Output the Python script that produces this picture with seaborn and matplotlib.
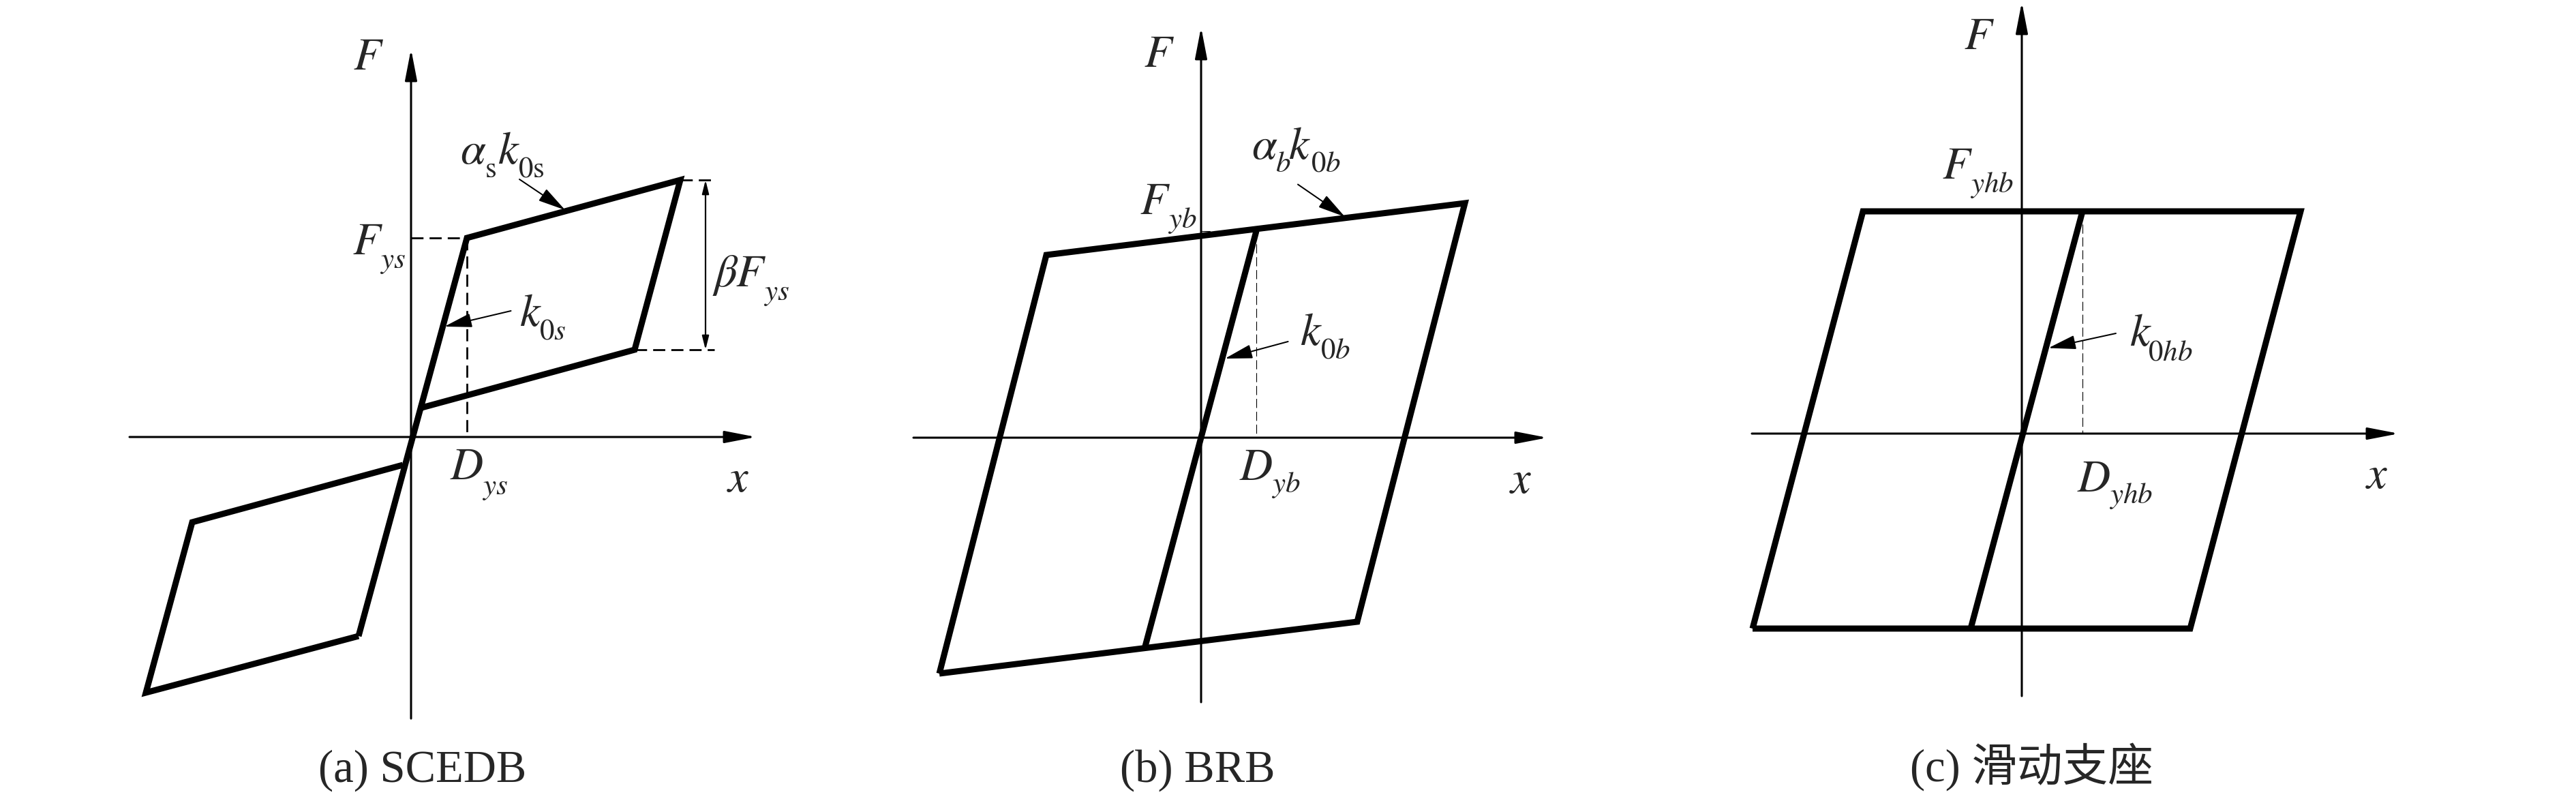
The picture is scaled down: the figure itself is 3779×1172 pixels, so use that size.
import matplotlib
matplotlib.use("Agg")
import matplotlib.pyplot as plt
import seaborn as sns

# force-displacement loops (units: 100 px of the original)
# (a) SCEDB
scedb_upper_x = [-0.77, 0.82, 3.95, 3.28, 0.12]
scedb_upper_F = [-2.92, 2.92, 3.77, 1.28, 0.42]
scedb_lower_x = [-0.12, -3.21, -3.89, -0.77]
scedb_lower_F = [-0.41, -1.25, -3.75, -2.92]
scedb_Dy, scedb_Fy = 0.82, 2.92
scedb_Fb = 1.28  # lower end of beta*Fys
scedb_Ft = 3.77  # upper end of beta*Fys

# (b) BRB
brb_loop_x = [-3.84, -2.27, 3.87, 2.29, -3.84]
brb_loop_F = [-3.46, 2.68, 3.44, -2.70, -3.46]
brb_elastic_x = [-0.82, 0.81]
brb_elastic_F = [-3.06, 3.03]
brb_Dy, brb_Fy = 0.81, 3.03

# (c) sliding bearing
slide_loop_x = [-3.95, -2.33, 4.09, 2.47, -3.95]
slide_loop_F = [-2.86, 3.26, 3.26, -2.86, -2.86]
slide_elastic_x = [-0.75, 0.89]
slide_elastic_F = [-2.86, 3.26]
slide_Dy, slide_Fy = 0.89, 3.26

captions = ["(a) SCEDB", "(b) BRB", "(c) 滑动支座"]

sns.set_style("white")
plt.rcParams['font.family'] = ['Liberation Serif', 'Noto Sans CJK SC']
plt.rcParams['mathtext.fontset'] = 'stix'

W, H, PX = 3780, 1172, 100
FS = 48      # main symbols / captions
FS_SUB = 31  # subscripts
LOOP_LW = 6.5
AX_LW = 2.2

fig = plt.figure(figsize=(W / 100, H / 100), dpi=100)
fig.patch.set_facecolor('white')


def make_axes(origin, xlim, ylim):
    ox, oy = origin
    left = (ox + xlim[0] * PX) / W
    width = (xlim[1] - xlim[0]) * PX / W
    bottom = 1 - (oy - ylim[0] * PX) / H
    height = (ylim[1] - ylim[0]) * PX / H
    ax = fig.add_axes([left, bottom, width, height])
    ax.set_xlim(xlim)
    ax.set_ylim(ylim)
    ax.set_axis_off()
    return ax


def draw_axes(ax, xl, xr, yb, yt):
    head = dict(arrowstyle='-|>,head_length=1.4,head_width=0.27',
                mutation_scale=20, lw=AX_LW, color='black',
                shrinkA=0, shrinkB=0)
    ax.annotate('', xy=(xr, 0), xytext=(xl, 0), arrowprops=head,
                annotation_clip=False)
    ax.annotate('', xy=(0, yt), xytext=(0, yb), arrowprops=head,
                annotation_clip=False)


def loop(ax, xs, ys):
    sns.lineplot(x=xs, y=ys, sort=False, estimator=None, ax=ax,
                 color='black', lw=LOOP_LW, solid_joinstyle='miter',
                 solid_capstyle='butt', clip_on=False)


def pointer(ax, start, end):
    ax.annotate('', xy=end, xytext=start, annotation_clip=False,
                arrowprops=dict(arrowstyle='-|>,head_length=1.25,head_width=0.32',
                                mutation_scale=20, lw=1.45, color='black',
                                shrinkA=0, shrinkB=0))


def symbol(ax, pieces):
    # pieces: (text, x, y, is_subscript); baseline-anchored
    for s, x, y, sub in pieces:
        ax.text(x, y, s, fontsize=FS_SUB if sub else FS,
                ha='left', va='baseline', clip_on=False)


# ---------------- (a) SCEDB ----------------
ax = make_axes((603, 641), (-4.5, 5.6), (-5.3, 6.0))
draw_axes(ax, -4.13, 5.06, -4.13, 5.69)
loop(ax, scedb_upper_x, scedb_upper_F)
loop(ax, scedb_lower_x, scedb_lower_F)
dash = dict(color='black', lw=2.0, dashes=(6.4, 3.2), clip_on=False)
ax.plot([0, scedb_Dy], [scedb_Fy, scedb_Fy], **dash)
ax.plot([scedb_Dy, scedb_Dy], [scedb_Fy, 0], **dash)
ax.plot([3.28, 4.45], [scedb_Fb, scedb_Fb], **dash)
ax.plot([3.95, 4.45], [scedb_Ft, scedb_Ft], **dash)
ax.annotate('', xy=(4.32, scedb_Ft), xytext=(4.32, scedb_Fb),
            annotation_clip=False,
            arrowprops=dict(arrowstyle='<|-|>,head_length=1.2,head_width=0.3',
                            mutation_scale=10, lw=1.6, color='black',
                            shrinkA=0, shrinkB=0))
pointer(ax, (1.59, 3.78), (2.26, 3.33))
pointer(ax, (1.465, 1.85), (0.49, 1.62))
ax.text(-0.63, 5.56, r'$F$', fontsize=FS, ha='center', va='center')
ax.text(4.80, -0.64, r'$x$', fontsize=FS, ha='center', va='center')
symbol(ax, [(r'$F$', -0.86, 2.68, False), (r'$ys$', -0.46, 2.48, True)])
symbol(ax, [(r'$k$', 1.59, 1.63, False), (r'$0s$', 1.88, 1.43, True)])
symbol(ax, [(r'$\alpha$', 0.72, 4.01, False), (r'$\mathrm{s}$', 1.08, 3.81, True),
            (r'$k$', 1.27, 4.01, False), (r'$0\mathrm{s}$', 1.57, 3.81, True)])
symbol(ax, [(r'$\beta$', 4.42, 2.21, False), (r'$F$', 4.756, 2.21, False),
            (r'$ys$', 5.17, 2.01, True)])
symbol(ax, [(r'$D$', 0.57, -0.62, False), (r'$ys$', 1.04, -0.84, True)])
ax.text(0.17, -5.06, captions[0], fontsize=FS, ha='center', va='baseline')

# ---------------- (b) BRB ----------------
ax = make_axes((1762, 642), (-4.5, 5.6), (-5.3, 6.3))
draw_axes(ax, -4.22, 5.08, -3.88, 6.02)
thin = dict(color='black', lw=0.8, dashes=(12, 5), clip_on=False)
ax.plot([brb_Dy, brb_Dy], [brb_Fy, 0], **thin)
ax.plot([0, brb_Dy], [brb_Fy, brb_Fy], **thin)
loop(ax, brb_loop_x, brb_loop_F)
loop(ax, brb_elastic_x, brb_elastic_F)
pointer(ax, (1.42, 3.715), (2.11, 3.24))
pointer(ax, (1.276, 1.41), (0.35, 1.16))
ax.text(-0.62, 5.60, r'$F$', fontsize=FS, ha='center', va='center')
ax.text(4.69, -0.64, r'$x$', fontsize=FS, ha='center', va='center')
symbol(ax, [(r'$F$', -0.90, 3.28, False), (r'$yb$', -0.49, 3.08, True)])
symbol(ax, [(r'$\alpha$', 0.74, 4.09, False), (r'$b$', 1.09, 3.90, True),
            (r'$k$', 1.28, 4.09, False), (r'$0b$', 1.61, 3.90, True)])
symbol(ax, [(r'$k$', 1.45, 1.36, False), (r'$0b$', 1.75, 1.16, True)])
symbol(ax, [(r'$D$', 0.56, -0.62, False), (r'$yb$', 1.03, -0.80, True)])
ax.text(-0.05, -5.05, captions[1], fontsize=FS, ha='center', va='baseline')

# ---------------- (c) sliding bearing ----------------
ax = make_axes((2966, 636), (-4.5, 5.9), (-5.3, 6.4))
draw_axes(ax, -3.96, 5.53, -3.85, 6.33)
ax.plot([slide_Dy, slide_Dy], [slide_Fy, 0], **thin)
loop(ax, slide_loop_x, slide_loop_F)
loop(ax, slide_elastic_x, slide_elastic_F)
pointer(ax, (1.38, 1.47), (0.39, 1.255))
ax.text(-0.63, 5.81, r'$F$', fontsize=FS, ha='center', va='center')
ax.text(5.21, -0.63, r'$x$', fontsize=FS, ha='center', va='center')
symbol(ax, [(r'$F$', -1.17, 3.74, False), (r'$yhb$', -0.76, 3.54, True)])
symbol(ax, [(r'$k$', 1.58, 1.29, False), (r'$0hb$', 1.85, 1.08, True)])
symbol(ax, [(r'$D$', 0.806, -0.85, False), (r'$yhb$', 1.275, -1.02, True)])
ax.text(0.14, -5.11, captions[2], fontsize=FS, ha='center', va='baseline')

fig.savefig('out.png', dpi=100, facecolor='white')
